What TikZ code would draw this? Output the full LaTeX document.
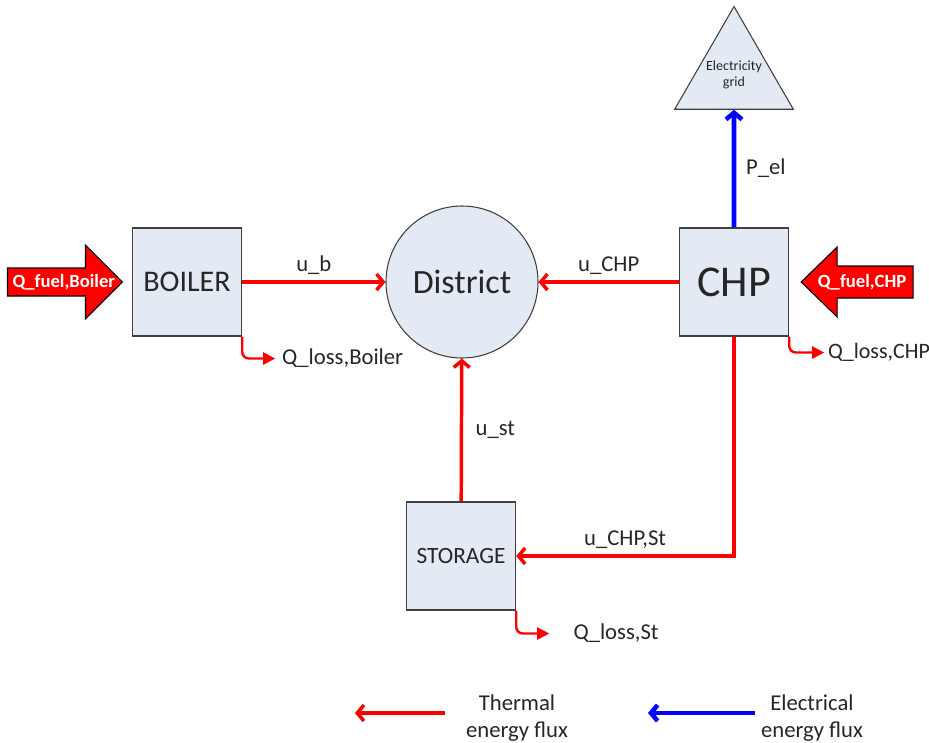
\documentclass[tikz,border=0pt]{standalone}
\usepackage{fontspec}
\setmainfont{Carlito}
\usetikzlibrary{arrows.meta, positioning, calc, shapes.geometric}
\definecolor{boxfill}{RGB}{228,234,244}
\definecolor{boxline}{RGB}{64,64,64}
\definecolor{txt}{RGB}{38,38,38}
\definecolor{flred}{RGB}{255,0,0}
\definecolor{flblue}{RGB}{0,0,255}

\begin{document}
\begin{tikzpicture}[x=0.75pt,y=-0.75pt,
  unit/.style={draw=boxline,fill=boxfill,line width=0.8pt,text=txt,minimum width=82pt,minimum height=81pt,inner sep=0pt},
  thermal/.style={draw=flred,line width=2.6pt,-{Straight Barb[length=5pt,width=12pt]}},
  elec/.style={draw=flblue,line width=3.4pt,-{Straight Barb[length=5pt,width=12pt]}},
  loss/.style={draw=flred,line width=1.8pt,rounded corners=5pt,-{Triangle[length=9pt,width=9pt]}},
  lbl/.style={text=txt,font=\fontsize{17}{20}\selectfont},
  fuel/.style={fill=flred,draw=black,line width=0.8pt},
  fueltxt/.style={text=white,font=\fontsize{14}{16}\bfseries\selectfont}]
\useasboundingbox (0,0) rectangle (929,743);

\node[unit,font=\fontsize{22.5}{26}\selectfont] (boiler) at (187,282) {BOILER};
\node[unit,circle,minimum size=114pt,font=\fontsize{25.5}{28}\selectfont] (district) at (462,282) {District};
\node[unit,font=\fontsize{33}{36}\selectfont] (chp) at (734,282) {CHP};
\node[unit,font=\fontsize{17.5}{20}\selectfont] (storage) at (461,556) {STORAGE};
\node[unit,regular polygon,regular polygon sides=3,minimum size=89pt,inner sep=-2.8pt,align=center,font=\fontsize{10.5}{12}\selectfont] (grid) at (734,75) {Electricity\\grid};

\draw[fuel] ([xshift=-7pt]boiler.west) -- ++(-37,-37) -- ++(0,23) -- ++(-78,0) -- ++(0,28) -- ++(78,0) -- ++(0,23) -- cycle;
\node[fueltxt,left=9pt of boiler] (qfb) {Q\_fuel,Boiler};
\draw[fuel] ([xshift=9pt]chp.east) -- ++(36,-35) -- ++(0,19) -- ++(76,0) -- ++(0,32) -- ++(-76,0) -- ++(0,19) -- cycle;
\node[fueltxt,right=18pt of chp] (qfc) {Q\_fuel,CHP};

\draw[thermal] (boiler) -- node[lbl,above=1pt] (ub) {u\_b} (district);
\draw[thermal] (chp) -- node[lbl,above=1pt] (uchp) {u\_CHP} (district);
\draw[thermal] (storage) -- node[lbl,right=6pt] (ust) {u\_st} (district);
\draw[thermal] (chp.south) |- node[lbl,pos=0.75,above=1pt] (uchpst) {u\_CHP,St} (storage.east);
\draw[elec] (chp) -- node[lbl,right=4pt] (pel) {P\_el} (grid);

\draw[loss] (boiler.south east) |- ++(33,22) node[lbl,right=1pt] (qlb) {Q\_loss,Boiler};
\draw[loss] (chp.south east) |- ++(35,16) node[lbl,right=0pt,inner sep=2pt,font=\fontsize{16.5}{19}\selectfont] (qlc) {Q\_loss,CHP};
\draw[loss] (storage.south east) |- ++(33,23) node[lbl,right=14pt] (qls) {Q\_loss,St};

\node[lbl,align=center] (legth) at (517,718) {Thermal\\energy flux};
\node[lbl,align=center] (legel) at (812,718) {Electrical\\energy flux};
\coordinate (th-from) at (445,713);
\coordinate (th-to) at (355,713);
\draw[thermal] (th-from) -- (th-to);
\coordinate (el-from) at (755,713);
\coordinate (el-to) at (648,713);
\draw[elec] (el-from) -- (el-to);
\end{tikzpicture}
\end{document}
